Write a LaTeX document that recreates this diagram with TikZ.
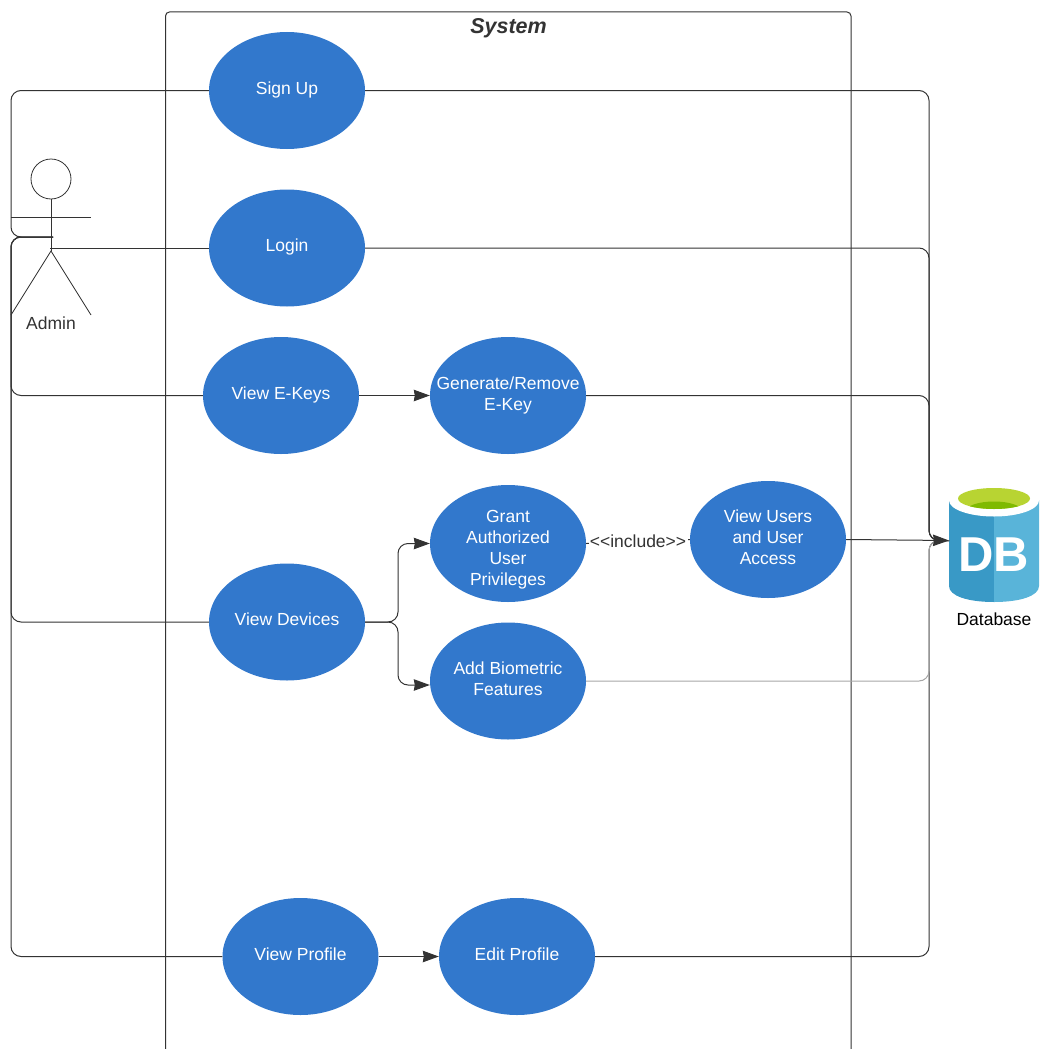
\documentclass[tikz,border=0pt]{standalone}
\usepackage{fontspec}
\setmainfont{Liberation Sans}
\usepackage{xcolor}
\usetikzlibrary{arrows.meta, shapes.geometric}
\definecolor{usecase}{HTML}{3278CC}
\definecolor{wire}{HTML}{333333}
\definecolor{dbdark}{HTML}{3999C6}
\definecolor{dblight}{HTML}{59B4D9}
\definecolor{dbgreen}{HTML}{B8D432}
\definecolor{dbliquid}{HTML}{7FBA00}
% text of a use case, centred on the ellipse and moved down by #1
\newcommand{\casetext}[2][-2.5pt]{\makebox[60pt]{\raisebox{\dimexpr-6.5pt-#1\relax}[0pt][0pt]{\begin{tabular}{@{}c@{}}#2\end{tabular}}}}
\tikzset{
  usecase/.style={ellipse, fill=usecase, text=white, minimum width=156pt, minimum height=117pt,
    inner sep=0pt, align=center, font=\fontsize{17.5}{21}\selectfont},
  wire/.style={draw=wire, line width=1pt, rounded corners=10pt},
  flow/.style={wire, -{Stealth[length=16pt,width=11.5pt,inset=1pt]}},
  person/.style={draw=wire, line width=0.8pt}
}
\begin{document}
\begin{tikzpicture}[x=1pt, y=-1pt]
    \useasboundingbox (0,0) rectangle (1039,1049);
    % system boundary
    \draw[draw=wire, line width=1pt, rounded corners=4pt] (165.5,1049) |- (851,12) -- (851,1049);
    \node[font=\fontsize{21.5}{25}\selectfont\bfseries\itshape, text=wire] (system) at (508.5,28.5) {System};

    % use cases
    \node[usecase] (signup) at (287,90.5) {\casetext{Sign Up}};
    \node[usecase] (login) at (287,248) {\casetext{Login}};
    \node[usecase] (viewkeys) at (281,395.5) {\casetext{View E-Keys}};
    \node[usecase] (genkey) at (508,395.5) {\casetext[-1.7pt]{Generate/Remove\\E-Key}};
    \node[usecase] (grant) at (508,543.5) {\casetext[4pt]{Grant\\Authorized\\User\\Privileges}};
    \node[usecase] (viewusers) at (768,539.5) {\casetext{View Users\\and User\\Access}};
    \node[usecase] (viewdevices) at (287,622) {\casetext{View Devices}};
    \node[usecase] (addbio) at (508,681) {\casetext{Add Biometric\\Features}};
    \node[usecase] (viewprofile) at (300.5,956.5) {\casetext{View Profile}};
    \node[usecase] (editprofile) at (517,956.5) {\casetext{Edit Profile}};

    % admin
    \node[circle, person, minimum size=40pt, inner sep=0pt] (head) at (51,179) {};
    \coordinate (hip) at (51,251);
    \coordinate (handl) at (11,217);
    \coordinate (handr) at (91,217);
    \coordinate (footl) at (11,315);
    \coordinate (footr) at (91,315);
    \draw[person] (head.south) -- (hip);
    \draw[person] (handl) -- (handr);
    \draw[person] (footl) -- (hip) -- (footr);
    \node[font=\fontsize{17.5}{21}\selectfont, text=wire] (admin) at (51,323) {Admin};

    % database
    \fill[dbdark] (949,500) -- (994,500) -- (994,602)
        .. controls (968,602) and (949,596) .. (949,586) -- cycle;
    \fill[dblight] (1039,500) -- (994,500) -- (994,602)
        .. controls (1020,602) and (1039,596) .. (1039,586) -- cycle;
    \fill[white] (994,500.5) ellipse (45pt and 16pt);
    \fill[dbgreen] (994,498.5) ellipse (36pt and 10.5pt);
    \begin{scope}
      \clip (994,498.5) ellipse (36pt and 10.5pt);
      \fill[dbliquid] (994,511) ellipse (28pt and 9.5pt);
    \end{scope}
    \node[font=\fontsize{49}{49}\selectfont\bfseries, text=white, inner sep=0pt] (dbicon) at (993.5,555) {DB};
    \node[font=\fontsize{17.5}{21}\selectfont, text=black] (database) at (994,619.5) {Database};
    \coordinate (dbin) at (949,540.5);

    % buses
    \coordinate (busleft) at (11,237);
    \coordinate (hand) at (53,237);
    \coordinate (busright) at (929,540.5);
    \coordinate (waist) at (50,248);

    \foreach \uc in {signup,viewkeys,viewdevices,viewprofile}
        \draw[wire] (\uc.west) -| (busleft) -- (hand);
    \draw[wire] (login.west) -- (waist);

    \foreach \uc in {signup,login,genkey,editprofile}
        \draw[wire] (\uc.east) -| (busright) -- (dbin);
    \draw[wire, draw=black!35] (addbio.east) -| (busright) -- (dbin);
    \draw[flow] (viewusers.east) -- (dbin);

    \draw[flow] (viewkeys.east) -- (genkey.west);
    \draw[flow] (viewprofile.east) -- (editprofile.west);
    \coordinate (fork) at (398,622);
    \draw[flow] (viewdevices.east) -- (fork) |- (grant.west);
    \draw[flow] (viewdevices.east) -- (fork) |- ([yshift=-4pt]addbio.west);

    % include
    \draw[draw=wire, line width=1pt, dashed] (grant.east) -- (viewusers.west)
        node[midway, fill=white, inner sep=0.5pt, text=wire, font=\fontsize{17.5}{21}\selectfont] (include) {<{}<include>{}>};
\end{tikzpicture}
\end{document}
